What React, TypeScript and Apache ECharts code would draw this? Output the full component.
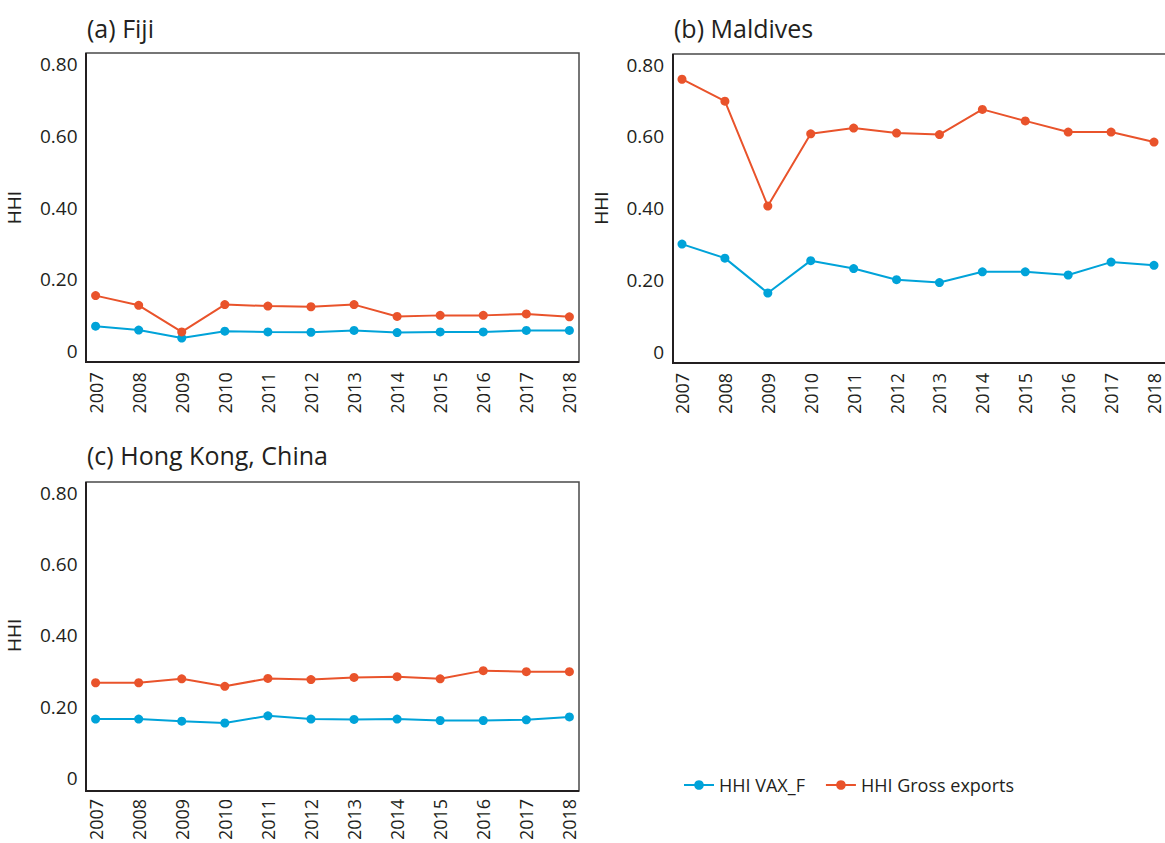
import React, { useEffect, useRef } from "react";
import * as echarts from "echarts";

const years = ["2007","2008","2009","2010","2011","2012","2013","2014","2015","2016","2017","2018"];
const yTicks = [0, 0.2, 0.4, 0.6, 0.8];

const fijiVax = [0.070, 0.059, 0.037, 0.056, 0.054, 0.053, 0.058, 0.052, 0.054, 0.054, 0.058, 0.058];
const fijiGross = [0.155, 0.128, 0.054, 0.130, 0.126, 0.124, 0.130, 0.097, 0.100, 0.100, 0.104, 0.096];

const maldVax = [0.300, 0.261, 0.164, 0.254, 0.232, 0.201, 0.193, 0.223, 0.223, 0.214, 0.250, 0.241];
const maldGross = [0.759, 0.698, 0.406, 0.607, 0.623, 0.609, 0.605, 0.675, 0.643, 0.612, 0.612, 0.584];

const hkVax = [0.165, 0.165, 0.159, 0.154, 0.174, 0.165, 0.164, 0.165, 0.161, 0.161, 0.163, 0.171];
const hkGross = [0.267, 0.267, 0.278, 0.257, 0.279, 0.276, 0.282, 0.284, 0.278, 0.301, 0.298, 0.298];

const panelTitles = ["(a) Fiji", "(b) Maldives", "(c) Hong Kong, China"];
const seriesNames = ["HHI VAX_F", "HHI Gross exports"];

const BLUE = "#00a3d9";
const RED = "#e9532b";
const TEXT = "#231f20";
const FONT = "'Open Sans', 'Noto Sans', sans-serif";

export default function App() {
  const ref = useRef<HTMLDivElement>(null);
  useEffect(() => {
    if (!ref.current) return;
    const chart = echarts.init(ref.current, undefined, { renderer: "svg" });

    const grids = [
      { left: 95.6, top: 63.9, width: 473.8, height: 287.4 },
      { left: 682, top: 64.5, width: 472, height: 287.4 },
      { left: 95.6, top: 492.9, width: 473.8, height: 287.4 },
    ];
    const boxes = [
      { x: 86, y: 53, w: 493, h: 309 },
      { x: 673, y: 54, w: 495, h: 309 },
      { x: 86, y: 482, w: 493, h: 309 },
    ];
    const titlePos = [
      { x: 87, y: 28 },
      { x: 674, y: 28 },
      { x: 87, y: 455 },
    ];
    const data = [
      [fijiVax, fijiGross],
      [maldVax, maldGross],
      [hkVax, hkGross],
    ];

    const xAxis = grids.map((_, i) => ({
      type: "category",
      gridIndex: i,
      data: years,
      boundaryGap: false,
      axisLine: { show: false },
      axisTick: { show: false },
      axisLabel: { rotate: 90, margin: 21, fontSize: 18, color: TEXT, fontFamily: FONT, interval: 0 },
    }));
    const yAxis = grids.map((_, i) => ({
      type: "value",
      gridIndex: i,
      min: yTicks[0],
      max: yTicks[yTicks.length - 1],
      interval: 0.2,
      name: "HHI",
      nameLocation: "middle",
      nameGap: 72,
      nameTextStyle: { fontSize: 19, color: TEXT, fontFamily: FONT },
      axisLine: { show: false },
      axisTick: { show: false },
      splitLine: { show: false },
      axisLabel: {
        margin: 18,
        fontSize: 19,
        color: TEXT,
        fontFamily: FONT,
        formatter: (v: number) => (v === 0 ? "0" : v.toFixed(2)),
      },
    }));

    const series: any[] = [];
    data.forEach((pair, i) => {
      pair.forEach((vals, j) => {
        series.push({
          type: "line",
          name: seriesNames[j],
          xAxisIndex: i,
          yAxisIndex: i,
          data: vals,
          symbol: "circle",
          symbolSize: 9,
          lineStyle: { width: 2, color: j === 0 ? BLUE : RED },
          itemStyle: { color: j === 0 ? BLUE : RED },
          z: j === 0 ? 3 : 4,
        });
      });
    });

    const graphic: any[] = [];
    boxes.forEach((b) => {
      graphic.push({
        type: "rect",
        shape: { x: b.x, y: b.y, width: b.w, height: b.h },
        style: { fill: "none", stroke: "#4a4a4a", lineWidth: 1.5 },
        z: 1,
      });
      graphic.push({
        type: "polyline",
        shape: { points: [[b.x, b.y], [b.x, b.y + b.h], [b.x + b.w, b.y + b.h]] },
        style: { fill: "none", stroke: "#231f20", lineWidth: 2 },
        z: 2,
      });
    });
    panelTitles.forEach((t, i) => {
      graphic.push({
        type: "text",
        x: titlePos[i].x,
        y: titlePos[i].y,
        style: {
          text: t,
          fontSize: 25,
          fontFamily: FONT,
          fill: TEXT,
          textVerticalAlign: "middle",
          verticalAlign: "middle",
        },
      });
    });

    chart.setOption({
      animation: false,
      backgroundColor: "#ffffff",
      grid: grids,
      xAxis,
      yAxis,
      series,
      graphic,
      legend: {
        data: seriesNames,
        left: 678,
        top: 771,
        itemWidth: 30,
        itemHeight: 12,
        itemGap: 20,
        textStyle: { fontSize: 18, color: TEXT, fontFamily: FONT },
      },
    });
    return () => chart.dispose();
  }, []);
  return (
    <div
      ref={ref}
      style={{ position: "fixed", left: 0, top: 0, width: 1165, height: 843, background: "#fff" }}
    />
  );
}
